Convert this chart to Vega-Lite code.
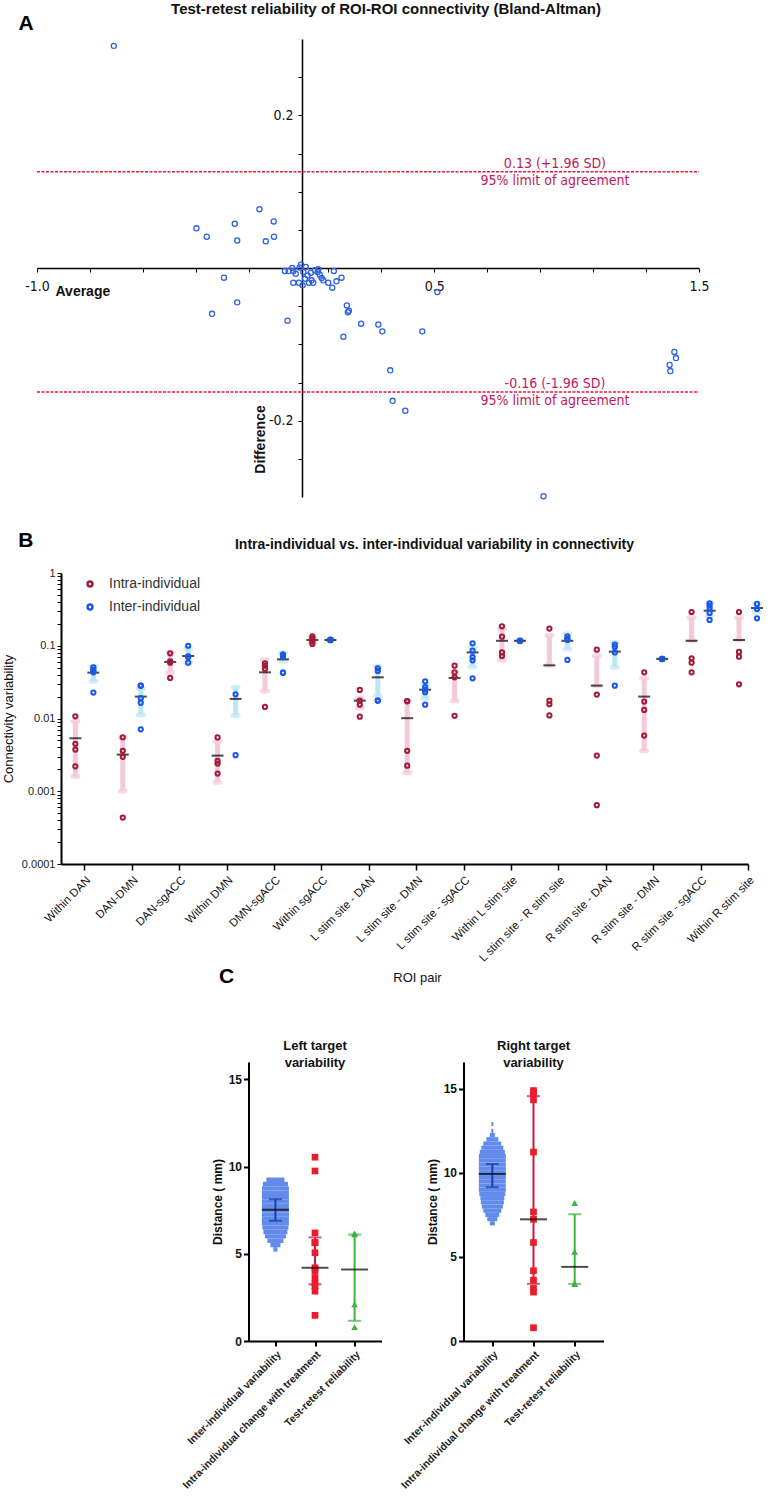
{
  "$schema": "https://vega.github.io/schema/vega-lite/v6.json",
  "padding": {"left": 2, "top": 2, "right": 0, "bottom": 0},
  "config": {
    "view": {"stroke": null},
    "font": "Liberation Sans",
    "axis": {"grid": false, "domainColor": "#000", "tickColor": "#000", "labelColor": "#111", "titleColor": "#111"},
    "title": {"color": "#111", "font": "Liberation Sans"}
  },
  "datasets": {
    "apts": [
      {"average": -0.710, "difference": 0.291}, {"average": -0.160, "difference": 0.077}, {"average": -0.398, "difference": 0.052},
      {"average": -0.359, "difference": 0.041}, {"average": -0.253, "difference": 0.058}, {"average": -0.244, "difference": 0.036},
      {"average": -0.106, "difference": 0.061}, {"average": -0.136, "difference": 0.035}, {"average": -0.105, "difference": 0.041},
      {"average": -0.294, "difference": -0.0127}, {"average": 0.512, "difference": -0.0315}, {"average": -0.244, "difference": -0.045},
      {"average": -0.339, "difference": -0.060}, {"average": -0.054, "difference": -0.069}, {"average": 0.170, "difference": -0.049},
      {"average": 0.174, "difference": -0.058}, {"average": 0.178, "difference": -0.056}, {"average": 0.157, "difference": -0.090},
      {"average": 0.224, "difference": -0.073}, {"average": 0.289, "difference": -0.074}, {"average": 0.304, "difference": -0.083},
      {"average": 0.455, "difference": -0.083}, {"average": 0.334, "difference": -0.134}, {"average": 0.343, "difference": -0.174},
      {"average": 0.391, "difference": -0.187}, {"average": 1.407, "difference": -0.110}, {"average": 1.413, "difference": -0.118},
      {"average": 1.389, "difference": -0.127}, {"average": 1.392, "difference": -0.135}, {"average": 0.913, "difference": -0.299},
      {"average": -0.064, "difference": -0.0039}, {"average": -0.050, "difference": -0.0040}, {"average": -0.036, "difference": 0.0},
      {"average": -0.032, "difference": -0.0039}, {"average": -0.023, "difference": -0.0075}, {"average": -0.003, "difference": 0.0043},
      {"average": 0.015, "difference": 0.0013}, {"average": 0.006, "difference": -0.0052}, {"average": -0.032, "difference": -0.0193},
      {"average": -0.011, "difference": -0.0193}, {"average": 0.003, "difference": -0.0227}, {"average": 0.012, "difference": -0.014},
      {"average": 0.027, "difference": -0.0193}, {"average": 0.037, "difference": -0.0161}, {"average": 0.043, "difference": -0.0193},
      {"average": 0.034, "difference": -0.0062}, {"average": 0.049, "difference": -0.003}, {"average": 0.060, "difference": -0.0052},
      {"average": 0.068, "difference": -0.0088}, {"average": 0.075, "difference": -0.0131}, {"average": 0.081, "difference": -0.0161},
      {"average": 0.100, "difference": -0.0193}, {"average": 0.115, "difference": -0.0258}, {"average": 0.121, "difference": -0.0039},
      {"average": 0.131, "difference": -0.0174}, {"average": 0.150, "difference": -0.0127}, {"average": 0.062, "difference": -0.0017},
      {"average": 0.022, "difference": -0.0096}, {"average": -0.008, "difference": 0.0007}
    ],
    "alines": [
      {"from": -1.0, "to": 1.5, "difference": 0.126, "label_at": 0.956, "limit": "0.13 (+1.96 SD)", "note": "95% limit of agreement"},
      {"from": -1.0, "to": 1.5, "difference": -0.1625, "label_at": 0.956, "limit": "-0.16 (-1.96 SD)", "note": "95% limit of agreement"}
    ],
    "bpts": [
      {"roi": "Within DAN", "group": "Intra-individual", "v": 0.0107}, {"roi": "Within DAN", "group": "Intra-individual", "v": 0.00448},
      {"roi": "Within DAN", "group": "Intra-individual", "v": 0.00374}, {"roi": "Within DAN", "group": "Intra-individual", "v": 0.0022},
      {"roi": "Within DAN", "group": "Inter-individual", "v": 0.0505}, {"roi": "Within DAN", "group": "Inter-individual", "v": 0.047},
      {"roi": "Within DAN", "group": "Inter-individual", "v": 0.0431}, {"roi": "Within DAN", "group": "Inter-individual", "v": 0.045},
      {"roi": "Within DAN", "group": "Inter-individual", "v": 0.0227},
      {"roi": "DAN-DMN", "group": "Intra-individual", "v": 0.00552}, {"roi": "DAN-DMN", "group": "Intra-individual", "v": 0.00359},
      {"roi": "DAN-DMN", "group": "Intra-individual", "v": 0.00297}, {"roi": "DAN-DMN", "group": "Intra-individual", "v": 0.000435},
      {"roi": "DAN-DMN", "group": "Inter-individual", "v": 0.0283}, {"roi": "DAN-DMN", "group": "Inter-individual", "v": 0.0283},
      {"roi": "DAN-DMN", "group": "Inter-individual", "v": 0.019}, {"roi": "DAN-DMN", "group": "Inter-individual", "v": 0.0164},
      {"roi": "DAN-DMN", "group": "Inter-individual", "v": 0.0071},
      {"roi": "DAN-sgACC", "group": "Intra-individual", "v": 0.0787}, {"roi": "DAN-sgACC", "group": "Intra-individual", "v": 0.061},
      {"roi": "DAN-sgACC", "group": "Intra-individual", "v": 0.0586}, {"roi": "DAN-sgACC", "group": "Intra-individual", "v": 0.0361},
      {"roi": "DAN-sgACC", "group": "Inter-individual", "v": 0.1}, {"roi": "DAN-sgACC", "group": "Inter-individual", "v": 0.0715},
      {"roi": "DAN-sgACC", "group": "Inter-individual", "v": 0.07}, {"roi": "DAN-sgACC", "group": "Inter-individual", "v": 0.0586},
      {"roi": "Within DMN", "group": "Intra-individual", "v": 0.0055}, {"roi": "Within DMN", "group": "Intra-individual", "v": 0.00261},
      {"roi": "Within DMN", "group": "Intra-individual", "v": 0.0024}, {"roi": "Within DMN", "group": "Intra-individual", "v": 0.00175},
      {"roi": "Within DMN", "group": "Inter-individual", "v": 0.0215}, {"roi": "Within DMN", "group": "Inter-individual", "v": 0.00313},
      {"roi": "DMN-sgACC", "group": "Intra-individual", "v": 0.0574}, {"roi": "DMN-sgACC", "group": "Intra-individual", "v": 0.0533},
      {"roi": "DMN-sgACC", "group": "Intra-individual", "v": 0.048}, {"roi": "DMN-sgACC", "group": "Intra-individual", "v": 0.0144},
      {"roi": "DMN-sgACC", "group": "Inter-individual", "v": 0.0762}, {"roi": "DMN-sgACC", "group": "Inter-individual", "v": 0.0738},
      {"roi": "DMN-sgACC", "group": "Inter-individual", "v": 0.07}, {"roi": "DMN-sgACC", "group": "Inter-individual", "v": 0.0427},
      {"roi": "DMN-sgACC", "group": "Inter-individual", "v": 0.0427},
      {"roi": "Within sgACC", "group": "Intra-individual", "v": 0.1346}, {"roi": "Within sgACC", "group": "Intra-individual", "v": 0.126},
      {"roi": "Within sgACC", "group": "Intra-individual", "v": 0.1187}, {"roi": "Within sgACC", "group": "Intra-individual", "v": 0.114},
      {"roi": "Within sgACC", "group": "Intra-individual", "v": 0.106},
      {"roi": "Within sgACC", "group": "Inter-individual", "v": 0.12}, {"roi": "Within sgACC", "group": "Inter-individual", "v": 0.121},
      {"roi": "Within sgACC", "group": "Inter-individual", "v": 0.119}, {"roi": "Within sgACC", "group": "Inter-individual", "v": 0.12},
      {"roi": "L stim site - DAN", "group": "Intra-individual", "v": 0.0247}, {"roi": "L stim site - DAN", "group": "Intra-individual", "v": 0.0176},
      {"roi": "L stim site - DAN", "group": "Intra-individual", "v": 0.0155}, {"roi": "L stim site - DAN", "group": "Intra-individual", "v": 0.0106},
      {"roi": "L stim site - DAN", "group": "Inter-individual", "v": 0.049}, {"roi": "L stim site - DAN", "group": "Inter-individual", "v": 0.045},
      {"roi": "L stim site - DAN", "group": "Inter-individual", "v": 0.0175}, {"roi": "L stim site - DAN", "group": "Inter-individual", "v": 0.0178},
      {"roi": "L stim site - DMN", "group": "Intra-individual", "v": 0.0174}, {"roi": "L stim site - DMN", "group": "Intra-individual", "v": 0.0172},
      {"roi": "L stim site - DMN", "group": "Intra-individual", "v": 0.00359}, {"roi": "L stim site - DMN", "group": "Intra-individual", "v": 0.00225},
      {"roi": "L stim site - DMN", "group": "Inter-individual", "v": 0.0324}, {"roi": "L stim site - DMN", "group": "Inter-individual", "v": 0.027},
      {"roi": "L stim site - DMN", "group": "Inter-individual", "v": 0.025}, {"roi": "L stim site - DMN", "group": "Inter-individual", "v": 0.023},
      {"roi": "L stim site - DMN", "group": "Inter-individual", "v": 0.0155},
      {"roi": "L stim site - sgACC", "group": "Intra-individual", "v": 0.0533}, {"roi": "L stim site - sgACC", "group": "Intra-individual", "v": 0.0431},
      {"roi": "L stim site - sgACC", "group": "Intra-individual", "v": 0.0368}, {"roi": "L stim site - sgACC", "group": "Intra-individual", "v": 0.0109},
      {"roi": "L stim site - sgACC", "group": "Inter-individual", "v": 0.108}, {"roi": "L stim site - sgACC", "group": "Inter-individual", "v": 0.0857},
      {"roi": "L stim site - sgACC", "group": "Inter-individual", "v": 0.07}, {"roi": "L stim site - sgACC", "group": "Inter-individual", "v": 0.063},
      {"roi": "L stim site - sgACC", "group": "Inter-individual", "v": 0.0357},
      {"roi": "Within L stim site", "group": "Intra-individual", "v": 0.185}, {"roi": "Within L stim site", "group": "Intra-individual", "v": 0.133},
      {"roi": "Within L stim site", "group": "Intra-individual", "v": 0.081}, {"roi": "Within L stim site", "group": "Intra-individual", "v": 0.0723},
      {"roi": "Within L stim site", "group": "Inter-individual", "v": 0.117}, {"roi": "Within L stim site", "group": "Inter-individual", "v": 0.118},
      {"roi": "Within L stim site", "group": "Inter-individual", "v": 0.116},
      {"roi": "L stim site - R stim site", "group": "Intra-individual", "v": 0.172}, {"roi": "L stim site - R stim site", "group": "Intra-individual", "v": 0.0176},
      {"roi": "L stim site - R stim site", "group": "Intra-individual", "v": 0.0157}, {"roi": "L stim site - R stim site", "group": "Intra-individual", "v": 0.011},
      {"roi": "L stim site - R stim site", "group": "Inter-individual", "v": 0.135}, {"roi": "L stim site - R stim site", "group": "Inter-individual", "v": 0.125},
      {"roi": "L stim site - R stim site", "group": "Inter-individual", "v": 0.12}, {"roi": "L stim site - R stim site", "group": "Inter-individual", "v": 0.0638},
      {"roi": "R stim site - DAN", "group": "Intra-individual", "v": 0.0883}, {"roi": "R stim site - DAN", "group": "Intra-individual", "v": 0.0213},
      {"roi": "R stim site - DAN", "group": "Intra-individual", "v": 0.00309}, {"roi": "R stim site - DAN", "group": "Intra-individual", "v": 0.000643},
      {"roi": "R stim site - DAN", "group": "Inter-individual", "v": 0.104}, {"roi": "R stim site - DAN", "group": "Inter-individual", "v": 0.096},
      {"roi": "R stim site - DAN", "group": "Inter-individual", "v": 0.081}, {"roi": "R stim site - DAN", "group": "Inter-individual", "v": 0.0283},
      {"roi": "R stim site - DMN", "group": "Intra-individual", "v": 0.0431}, {"roi": "R stim site - DMN", "group": "Intra-individual", "v": 0.0171},
      {"roi": "R stim site - DMN", "group": "Intra-individual", "v": 0.0131}, {"roi": "R stim site - DMN", "group": "Intra-individual", "v": 0.00582},
      {"roi": "R stim site - DMN", "group": "Inter-individual", "v": 0.0659}, {"roi": "R stim site - DMN", "group": "Inter-individual", "v": 0.066},
      {"roi": "R stim site - DMN", "group": "Inter-individual", "v": 0.0655},
      {"roi": "R stim site - sgACC", "group": "Intra-individual", "v": 0.291}, {"roi": "R stim site - sgACC", "group": "Intra-individual", "v": 0.0671},
      {"roi": "R stim site - sgACC", "group": "Intra-individual", "v": 0.0586}, {"roi": "R stim site - sgACC", "group": "Intra-individual", "v": 0.0431},
      {"roi": "R stim site - sgACC", "group": "Inter-individual", "v": 0.383}, {"roi": "R stim site - sgACC", "group": "Inter-individual", "v": 0.355},
      {"roi": "R stim site - sgACC", "group": "Inter-individual", "v": 0.327}, {"roi": "R stim site - sgACC", "group": "Inter-individual", "v": 0.282},
      {"roi": "R stim site - sgACC", "group": "Inter-individual", "v": 0.226},
      {"roi": "Within R stim site", "group": "Intra-individual", "v": 0.291}, {"roi": "Within R stim site", "group": "Intra-individual", "v": 0.0822},
      {"roi": "Within R stim site", "group": "Intra-individual", "v": 0.0708}, {"roi": "Within R stim site", "group": "Intra-individual", "v": 0.0295},
      {"roi": "Within R stim site", "group": "Inter-individual", "v": 0.375}, {"roi": "Within R stim site", "group": "Inter-individual", "v": 0.32},
      {"roi": "Within R stim site", "group": "Inter-individual", "v": 0.238}
    ],
    "bstats": [
      {"roi": "Within DAN", "group": "Intra-individual", "mean": 0.00535, "lo": 0.00159, "hi": 0.00916},
      {"roi": "Within DAN", "group": "Inter-individual", "mean": 0.0427, "lo": 0.0324, "hi": 0.052},
      {"roi": "DAN-DMN", "group": "Intra-individual", "mean": 0.00319, "lo": 0.00101, "hi": 0.0055},
      {"roi": "DAN-DMN", "group": "Inter-individual", "mean": 0.02, "lo": 0.0113, "hi": 0.0257},
      {"roi": "DAN-sgACC", "group": "Intra-individual", "mean": 0.0599, "lo": 0.043, "hi": 0.081},
      {"roi": "DAN-sgACC", "group": "Inter-individual", "mean": 0.0723, "lo": 0.0586, "hi": 0.092},
      {"roi": "Within DMN", "group": "Intra-individual", "mean": 0.00309, "lo": 0.00133, "hi": 0.00482},
      {"roi": "Within DMN", "group": "Inter-individual", "mean": 0.0186, "lo": 0.011, "hi": 0.0268},
      {"roi": "DMN-sgACC", "group": "Intra-individual", "mean": 0.0431, "lo": 0.0237, "hi": 0.0644},
      {"roi": "DMN-sgACC", "group": "Inter-individual", "mean": 0.065, "lo": 0.061, "hi": 0.0796},
      {"roi": "Within sgACC", "group": "Intra-individual", "mean": 0.12, "lo": 0.11, "hi": 0.13},
      {"roi": "Within sgACC", "group": "Inter-individual", "mean": 0.12, "lo": 0.117, "hi": 0.123},
      {"roi": "L stim site - DAN", "group": "Intra-individual", "mean": 0.0176, "lo": 0.014, "hi": 0.019},
      {"roi": "L stim site - DAN", "group": "Inter-individual", "mean": 0.0368, "lo": 0.0206, "hi": 0.052},
      {"roi": "L stim site - DMN", "group": "Intra-individual", "mean": 0.0101, "lo": 0.00179, "hi": 0.0176},
      {"roi": "L stim site - DMN", "group": "Inter-individual", "mean": 0.0249, "lo": 0.019, "hi": 0.0298},
      {"roi": "L stim site - sgACC", "group": "Intra-individual", "mean": 0.0361, "lo": 0.0176, "hi": 0.0431},
      {"roi": "L stim site - sgACC", "group": "Inter-individual", "mean": 0.081, "lo": 0.0516, "hi": 0.095},
      {"roi": "Within L stim site", "group": "Intra-individual", "mean": 0.117, "lo": 0.0638, "hi": 0.17},
      {"roi": "Within L stim site", "group": "Inter-individual", "mean": 0.117, "lo": 0.115, "hi": 0.12},
      {"roi": "L stim site - R stim site", "group": "Intra-individual", "mean": 0.0538, "lo": 0.0538, "hi": 0.138},
      {"roi": "L stim site - R stim site", "group": "Inter-individual", "mean": 0.117, "lo": 0.0904, "hi": 0.145},
      {"roi": "R stim site - DAN", "group": "Intra-individual", "mean": 0.0283, "lo": 0.0283, "hi": 0.0731},
      {"roi": "R stim site - DAN", "group": "Inter-individual", "mean": 0.083, "lo": 0.0505, "hi": 0.111},
      {"roi": "R stim site - DMN", "group": "Intra-individual", "mean": 0.02, "lo": 0.00359, "hi": 0.0361},
      {"roi": "R stim site - DMN", "group": "Inter-individual", "mean": 0.0659, "lo": 0.064, "hi": 0.068},
      {"roi": "R stim site - sgACC", "group": "Intra-individual", "mean": 0.117, "lo": 0.117, "hi": 0.245},
      {"roi": "R stim site - sgACC", "group": "Inter-individual", "mean": 0.303, "lo": 0.259, "hi": 0.387},
      {"roi": "Within R stim site", "group": "Intra-individual", "mean": 0.12, "lo": 0.12, "hi": 0.245},
      {"roi": "Within R stim site", "group": "Inter-individual", "mean": 0.33, "lo": 0.29, "hi": 0.375}
    ],
    "cblobL": [
      {"cat": "Inter-individual variability", "dist": 9.25, "n": 18}, {"cat": "Inter-individual variability", "dist": 9.0, "n": 25},
      {"cat": "Inter-individual variability", "dist": 8.75, "n": 27}, {"cat": "Inter-individual variability", "dist": 8.5, "n": 27},
      {"cat": "Inter-individual variability", "dist": 8.25, "n": 27}, {"cat": "Inter-individual variability", "dist": 8.0, "n": 27},
      {"cat": "Inter-individual variability", "dist": 7.75, "n": 27}, {"cat": "Inter-individual variability", "dist": 7.5, "n": 27},
      {"cat": "Inter-individual variability", "dist": 7.25, "n": 27}, {"cat": "Inter-individual variability", "dist": 7.0, "n": 27},
      {"cat": "Inter-individual variability", "dist": 6.75, "n": 27}, {"cat": "Inter-individual variability", "dist": 6.5, "n": 26},
      {"cat": "Inter-individual variability", "dist": 6.25, "n": 24}, {"cat": "Inter-individual variability", "dist": 6.0, "n": 21},
      {"cat": "Inter-individual variability", "dist": 5.75, "n": 16}, {"cat": "Inter-individual variability", "dist": 5.5, "n": 10},
      {"cat": "Inter-individual variability", "dist": 5.25, "n": 4}
    ],
    "cptsL": [
      {"cat": "Intra-individual change with treatment", "dist": 10.54}, {"cat": "Intra-individual change with treatment", "dist": 9.75},
      {"cat": "Intra-individual change with treatment", "dist": 6.2}, {"cat": "Intra-individual change with treatment", "dist": 5.63},
      {"cat": "Intra-individual change with treatment", "dist": 5.65}, {"cat": "Intra-individual change with treatment", "dist": 5.06},
      {"cat": "Intra-individual change with treatment", "dist": 4.2}, {"cat": "Intra-individual change with treatment", "dist": 4.01},
      {"cat": "Intra-individual change with treatment", "dist": 3.63}, {"cat": "Intra-individual change with treatment", "dist": 3.34},
      {"cat": "Intra-individual change with treatment", "dist": 3.15}, {"cat": "Intra-individual change with treatment", "dist": 2.86},
      {"cat": "Intra-individual change with treatment", "dist": 1.47},
      {"cat": "Test-retest reliability", "dist": 6.11}, {"cat": "Test-retest reliability", "dist": 6.17},
      {"cat": "Test-retest reliability", "dist": 2.1}, {"cat": "Test-retest reliability", "dist": 0.8}
    ],
    "cstatsL": [
      {"cat": "Inter-individual variability", "mean": 7.52, "lo": 6.9, "hi": 8.13},
      {"cat": "Intra-individual change with treatment", "mean": 4.2, "lo": 3.25, "hi": 5.94},
      {"cat": "Test-retest reliability", "mean": 4.1, "lo": 1.16, "hi": 6.1}
    ],
    "cblobR": [
      {"cat": "Inter-individual variability", "dist": 12.9, "n": 2}, {"cat": "Inter-individual variability", "dist": 12.5, "n": 2},
      {"cat": "Inter-individual variability", "dist": 12.25, "n": 5}, {"cat": "Inter-individual variability", "dist": 12.0, "n": 12},
      {"cat": "Inter-individual variability", "dist": 11.75, "n": 18}, {"cat": "Inter-individual variability", "dist": 11.5, "n": 22},
      {"cat": "Inter-individual variability", "dist": 11.25, "n": 25}, {"cat": "Inter-individual variability", "dist": 11.0, "n": 27},
      {"cat": "Inter-individual variability", "dist": 10.75, "n": 27}, {"cat": "Inter-individual variability", "dist": 10.5, "n": 27},
      {"cat": "Inter-individual variability", "dist": 10.25, "n": 27}, {"cat": "Inter-individual variability", "dist": 10.0, "n": 27},
      {"cat": "Inter-individual variability", "dist": 9.75, "n": 27}, {"cat": "Inter-individual variability", "dist": 9.5, "n": 27},
      {"cat": "Inter-individual variability", "dist": 9.25, "n": 27}, {"cat": "Inter-individual variability", "dist": 9.0, "n": 27},
      {"cat": "Inter-individual variability", "dist": 8.75, "n": 26}, {"cat": "Inter-individual variability", "dist": 8.5, "n": 24},
      {"cat": "Inter-individual variability", "dist": 8.25, "n": 23}, {"cat": "Inter-individual variability", "dist": 8.0, "n": 21},
      {"cat": "Inter-individual variability", "dist": 7.75, "n": 18}, {"cat": "Inter-individual variability", "dist": 7.5, "n": 14},
      {"cat": "Inter-individual variability", "dist": 7.25, "n": 10}, {"cat": "Inter-individual variability", "dist": 7.0, "n": 5}
    ],
    "cptsR": [
      {"cat": "Intra-individual change with treatment", "dist": 14.9}, {"cat": "Intra-individual change with treatment", "dist": 14.74},
      {"cat": "Intra-individual change with treatment", "dist": 14.71}, {"cat": "Intra-individual change with treatment", "dist": 14.35},
      {"cat": "Intra-individual change with treatment", "dist": 11.24}, {"cat": "Intra-individual change with treatment", "dist": 7.68},
      {"cat": "Intra-individual change with treatment", "dist": 7.24}, {"cat": "Intra-individual change with treatment", "dist": 5.86},
      {"cat": "Intra-individual change with treatment", "dist": 4.18}, {"cat": "Intra-individual change with treatment", "dist": 3.62},
      {"cat": "Intra-individual change with treatment", "dist": 3.13}, {"cat": "Intra-individual change with treatment", "dist": 2.91},
      {"cat": "Intra-individual change with treatment", "dist": 0.79},
      {"cat": "Test-retest reliability", "dist": 8.21}, {"cat": "Test-retest reliability", "dist": 5.3},
      {"cat": "Test-retest reliability", "dist": 3.38}, {"cat": "Test-retest reliability", "dist": 3.42}
    ],
    "cstatsR": [
      {"cat": "Inter-individual variability", "mean": 9.94, "lo": 9.15, "hi": 10.53},
      {"cat": "Intra-individual change with treatment", "mean": 7.24, "lo": 3.4, "hi": 14.57},
      {"cat": "Test-retest reliability", "mean": 4.41, "lo": 3.4, "hi": 7.54}
    ]
  },
  "spacing": 52,
  "center": true,
  "resolve": {"scale": {"color": "independent", "size": "independent", "shape": "independent"}, "legend": {"color": "independent"}},
  "vconcat": [
    {
      "spacing": 28,
      "resolve": {"scale": {"color": "independent"}, "legend": {"color": "independent"}},
      "vconcat": [
        {
          "width": 730,
          "height": 458,
          "title": {"text": "Test-retest reliability of ROI-ROI connectivity (Bland-Altman)", "fontSize": 15, "fontWeight": "bold", "anchor": "middle", "frame": "group", "dx": -40, "offset": -4},
          "layer": [
            {
              "data": {"name": "apts"},
              "mark": {"type": "point", "shape": "circle", "filled": false, "size": 26, "strokeWidth": 1.3, "color": "#2c62e2", "opacity": 1},
              "encoding": {
                "x": {"field": "average", "type": "quantitative", "scale": {"domain": [-1, 1.5], "range": [-24, 638], "nice": false, "zero": false},
                  "axis": {"orient": "bottom", "offset": -229, "values": [-1, -0.9, -0.8, -0.7, -0.6, -0.5, -0.4, -0.3, -0.2, -0.1, 0.1, 0.2, 0.3, 0.4, 0.5, 0.6, 0.7, 0.8, 0.9, 1, 1.1, 1.2, 1.3, 1.4, 1.5],
                    "labelExpr": "abs(datum.value*2 - round(datum.value*2)) < 0.001 ? replace(format(datum.value, '.1f'), '\u2212', '-') : ''",
                    "title": "Average", "titleX": -6, "titleY": 23, "titleAlign": "left", "titleBaseline": "middle", "titleFontSize": 14, "titleFontWeight": "bold",
                    "labelFont": "Liberation Sans Narrow, DejaVu Sans Condensed, Liberation Sans", "labelFontSize": 14, "labelPadding": 7,
                    "tickSize": 4, "tickWidth": 1, "domainWidth": 1.5, "labelFlush": false, "labelOverlap": false, "labelBound": false}},
                "y": {"field": "difference", "type": "quantitative", "scale": {"domain": [-0.3, 0.3], "nice": false, "zero": false},
                  "axis": {"orient": "left", "offset": -241, "values": [-0.25, -0.2, -0.15, -0.1, -0.05, 0.05, 0.1, 0.15, 0.2, 0.25],
                    "labelExpr": "abs(abs(datum.value) - 0.2) < 0.001 ? replace(format(datum.value, '.1f'), '\u2212', '-') : ''",
                    "title": "Difference", "titleAngle": -90, "titleX": -42, "titleY": 400, "titleAlign": "center", "titleBaseline": "middle", "titleFontSize": 14, "titleFontWeight": "bold",
                    "labelFont": "Liberation Sans Narrow, DejaVu Sans Condensed, Liberation Sans", "labelFontSize": 14, "labelPadding": 5,
                    "tickSize": 4, "tickWidth": 1, "domainWidth": 1.5, "labelOverlap": false}}
              }
            },
            {
              "data": {"name": "alines"},
              "mark": {"type": "rule", "color": "#e8193c", "strokeWidth": 1.5, "strokeDash": [3, 1.5]},
              "encoding": {
                "x": {"field": "from", "type": "quantitative", "scale": {"domain": [-1, 1.5], "range": [-24, 638], "nice": false, "zero": false}},
                "x2": {"field": "to"},
                "y": {"field": "difference", "type": "quantitative", "scale": {"domain": [-0.3, 0.3], "nice": false, "zero": false}}
              }
            },
            {
              "data": {"name": "alines"},
              "mark": {"type": "text", "baseline": "bottom", "dy": -1, "font": "Liberation Sans Narrow, DejaVu Sans Condensed, Liberation Sans", "fontSize": 14, "color": "#c2185b"},
              "encoding": {
                "x": {"field": "label_at", "type": "quantitative", "scale": {"domain": [-1, 1.5], "range": [-24, 638], "nice": false, "zero": false}},
                "y": {"field": "difference", "type": "quantitative", "scale": {"domain": [-0.3, 0.3], "nice": false, "zero": false}},
                "text": {"field": "limit"}
              }
            },
            {
              "data": {"name": "alines"},
              "mark": {"type": "text", "baseline": "top", "dy": 2, "font": "Liberation Sans Narrow, DejaVu Sans Condensed, Liberation Sans", "fontSize": 14, "color": "#c2185b"},
              "encoding": {
                "x": {"field": "label_at", "type": "quantitative", "scale": {"domain": [-1, 1.5], "range": [-24, 638], "nice": false, "zero": false}},
                "y": {"field": "difference", "type": "quantitative", "scale": {"domain": [-0.3, 0.3], "nice": false, "zero": false}},
                "text": {"field": "note"}
              }
            },
            {
              "data": {"values": [{"average": -1.041, "difference": 0.319, "panel": "A"}]},
              "mark": {"type": "text", "fontSize": 21, "fontWeight": "bold", "color": "#000"},
              "encoding": {
                "x": {"field": "average", "type": "quantitative", "scale": {"domain": [-1, 1.5], "range": [-24, 638], "nice": false, "zero": false}},
                "y": {"field": "difference", "type": "quantitative", "scale": {"domain": [-0.3, 0.3], "nice": false, "zero": false}},
                "text": {"field": "panel"}
              }
            }
          ]
        },
        {
          "width": 687,
          "height": 291,
          "title": {"text": "Intra-individual vs. inter-individual variability in connectivity", "fontSize": 14, "fontWeight": "bold", "anchor": "middle", "frame": "group", "dx": 30, "offset": -22},
          "layer": [
            {
              "data": {"name": "bstats"},
              "transform": [{"filter": "datum.group === 'Intra-individual'"}],
              "mark": {"type": "rule", "xOffset": -9, "color": "#f6c8dc", "strokeWidth": 5},
              "encoding": {
                "x": {"field": "roi", "type": "nominal", "sort": null,
                  "scale": {"type": "point", "domain": ["Within DAN", "DAN-DMN", "DAN-sgACC", "Within DMN", "DMN-sgACC", "Within sgACC", "L stim site - DAN", "L stim site - DMN", "L stim site - sgACC", "Within L stim site", "L stim site - R stim site", "R stim site - DAN", "R stim site - DMN", "R stim site - sgACC", "Within R stim site"], "padding": 0.2465, "align": 1},
                  "axis": {"title": "ROI pair", "titleFontSize": 13, "titleFontWeight": "normal", "titlePadding": 8, "titleX": 356, "labelAngle": -45, "labelFontSize": 11.5, "labelPadding": 4, "tickSize": 6, "tickWidth": 1.5, "domainWidth": 2, "labelLimit": 300}},
                "y": {"field": "lo", "type": "quantitative", "scale": {"type": "log", "domain": [0.0001, 1], "nice": false},
                  "axis": {"title": "Connectivity variability", "titleFontSize": 13, "titleFontWeight": "normal", "titlePadding": 6,
                    "values": [0.0001, 0.0002, 0.0003, 0.0004, 0.0005, 0.0006, 0.0007, 0.0008, 0.0009, 0.001, 0.002, 0.003, 0.004, 0.005, 0.006, 0.007, 0.008, 0.009, 0.01, 0.02, 0.03, 0.04, 0.05, 0.06, 0.07, 0.08, 0.09, 0.1, 0.2, 0.3, 0.4, 0.5, 0.6, 0.7, 0.8, 0.9, 1],
                    "labelExpr": "abs(log(datum.value)/LN10 - round(log(datum.value)/LN10)) < 0.000001 ? format(datum.value, '~g') : ''",
                    "labelFontSize": 11, "labelPadding": 2, "tickSize": 4, "domainWidth": 2, "labelOverlap": false, "labelColor": "#222"}},
                "y2": {"field": "hi"}
              }
            },
            {
              "data": {"name": "bstats"},
              "transform": [{"filter": "datum.group === 'Intra-individual'"}, {"fold": ["lo", "hi"], "as": ["end", "v"]}],
              "mark": {"type": "tick", "xOffset": -9, "color": "#f6c8dc", "size": 10, "thickness": 5, "cornerRadius": 2.5},
              "encoding": {
                "x": {"field": "roi", "type": "nominal", "sort": null, "scale": {"type": "point", "domain": ["Within DAN", "DAN-DMN", "DAN-sgACC", "Within DMN", "DMN-sgACC", "Within sgACC", "L stim site - DAN", "L stim site - DMN", "L stim site - sgACC", "Within L stim site", "L stim site - R stim site", "R stim site - DAN", "R stim site - DMN", "R stim site - sgACC", "Within R stim site"], "padding": 0.2465, "align": 1}},
                "y": {"field": "v", "type": "quantitative", "scale": {"type": "log", "domain": [0.0001, 1], "nice": false}}
              }
            },
            {
              "data": {"name": "bstats"},
              "transform": [{"filter": "datum.group === 'Inter-individual'"}],
              "mark": {"type": "rule", "xOffset": 9, "color": "#bde6f5", "strokeWidth": 5},
              "encoding": {
                "x": {"field": "roi", "type": "nominal", "sort": null, "scale": {"type": "point", "domain": ["Within DAN", "DAN-DMN", "DAN-sgACC", "Within DMN", "DMN-sgACC", "Within sgACC", "L stim site - DAN", "L stim site - DMN", "L stim site - sgACC", "Within L stim site", "L stim site - R stim site", "R stim site - DAN", "R stim site - DMN", "R stim site - sgACC", "Within R stim site"], "padding": 0.2465, "align": 1}},
                "y": {"field": "lo", "type": "quantitative", "scale": {"type": "log", "domain": [0.0001, 1], "nice": false}},
                "y2": {"field": "hi"}
              }
            },
            {
              "data": {"name": "bstats"},
              "transform": [{"filter": "datum.group === 'Inter-individual'"}, {"fold": ["lo", "hi"], "as": ["end", "v"]}],
              "mark": {"type": "tick", "xOffset": 9, "color": "#bde6f5", "size": 10, "thickness": 5, "cornerRadius": 2.5},
              "encoding": {
                "x": {"field": "roi", "type": "nominal", "sort": null, "scale": {"type": "point", "domain": ["Within DAN", "DAN-DMN", "DAN-sgACC", "Within DMN", "DMN-sgACC", "Within sgACC", "L stim site - DAN", "L stim site - DMN", "L stim site - sgACC", "Within L stim site", "L stim site - R stim site", "R stim site - DAN", "R stim site - DMN", "R stim site - sgACC", "Within R stim site"], "padding": 0.2465, "align": 1}},
                "y": {"field": "v", "type": "quantitative", "scale": {"type": "log", "domain": [0.0001, 1], "nice": false}}
              }
            },
            {
              "data": {"name": "bstats"},
              "transform": [{"filter": "datum.group === 'Intra-individual'"}],
              "mark": {"type": "tick", "xOffset": -9, "color": "#000", "size": 12, "thickness": 2},
              "encoding": {
                "x": {"field": "roi", "type": "nominal", "sort": null, "scale": {"type": "point", "domain": ["Within DAN", "DAN-DMN", "DAN-sgACC", "Within DMN", "DMN-sgACC", "Within sgACC", "L stim site - DAN", "L stim site - DMN", "L stim site - sgACC", "Within L stim site", "L stim site - R stim site", "R stim site - DAN", "R stim site - DMN", "R stim site - sgACC", "Within R stim site"], "padding": 0.2465, "align": 1}},
                "y": {"field": "mean", "type": "quantitative", "scale": {"type": "log", "domain": [0.0001, 1], "nice": false}}
              }
            },
            {
              "data": {"name": "bstats"},
              "transform": [{"filter": "datum.group === 'Inter-individual'"}],
              "mark": {"type": "tick", "xOffset": 9, "color": "#000", "size": 12, "thickness": 2},
              "encoding": {
                "x": {"field": "roi", "type": "nominal", "sort": null, "scale": {"type": "point", "domain": ["Within DAN", "DAN-DMN", "DAN-sgACC", "Within DMN", "DMN-sgACC", "Within sgACC", "L stim site - DAN", "L stim site - DMN", "L stim site - sgACC", "Within L stim site", "L stim site - R stim site", "R stim site - DAN", "R stim site - DMN", "R stim site - sgACC", "Within R stim site"], "padding": 0.2465, "align": 1}},
                "y": {"field": "mean", "type": "quantitative", "scale": {"type": "log", "domain": [0.0001, 1], "nice": false}}
              }
            },
            {
              "data": {"name": "bpts"},
              "transform": [{"filter": "datum.group === 'Intra-individual'"}],
              "mark": {"type": "point", "shape": "circle", "filled": false, "size": 18, "strokeWidth": 2, "xOffset": -9, "opacity": 1},
              "encoding": {
                "x": {"field": "roi", "type": "nominal", "sort": null, "scale": {"type": "point", "domain": ["Within DAN", "DAN-DMN", "DAN-sgACC", "Within DMN", "DMN-sgACC", "Within sgACC", "L stim site - DAN", "L stim site - DMN", "L stim site - sgACC", "Within L stim site", "L stim site - R stim site", "R stim site - DAN", "R stim site - DMN", "R stim site - sgACC", "Within R stim site"], "padding": 0.2465, "align": 1}},
                "y": {"field": "v", "type": "quantitative", "scale": {"type": "log", "domain": [0.0001, 1], "nice": false}},
                "color": {"field": "group", "type": "nominal", "scale": {"domain": ["Intra-individual", "Inter-individual"], "range": ["#a31b34", "#1b58e6"]},
                  "legend": {"orient": "none", "legendX": 22, "legendY": 4, "title": null, "symbolSize": 24, "symbolStrokeWidth": 2.5, "labelFontSize": 14, "labelColor": "#333", "rowPadding": 7, "labelOffset": 12, "padding": 0}}
              }
            },
            {
              "data": {"name": "bpts"},
              "transform": [{"filter": "datum.group === 'Inter-individual'"}],
              "mark": {"type": "point", "shape": "circle", "filled": false, "size": 18, "strokeWidth": 2, "xOffset": 9, "opacity": 1},
              "encoding": {
                "x": {"field": "roi", "type": "nominal", "sort": null, "scale": {"type": "point", "domain": ["Within DAN", "DAN-DMN", "DAN-sgACC", "Within DMN", "DMN-sgACC", "Within sgACC", "L stim site - DAN", "L stim site - DMN", "L stim site - sgACC", "Within L stim site", "L stim site - R stim site", "R stim site - DAN", "R stim site - DMN", "R stim site - sgACC", "Within R stim site"], "padding": 0.2465, "align": 1}},
                "y": {"field": "v", "type": "quantitative", "scale": {"type": "log", "domain": [0.0001, 1], "nice": false}},
                "color": {"field": "group", "type": "nominal", "scale": {"domain": ["Intra-individual", "Inter-individual"], "range": ["#a31b34", "#1b58e6"]},
                  "legend": {"orient": "none", "legendX": 22, "legendY": 4, "title": null, "symbolSize": 24, "symbolStrokeWidth": 2.5, "labelFontSize": 14, "labelColor": "#333", "rowPadding": 7, "labelOffset": 12, "padding": 0}}
              }
            },
            {
              "data": {"values": [{"roi": "Within DAN", "v": 2.73, "panel": "B"}]},
              "mark": {"type": "text", "fontSize": 21, "fontWeight": "bold", "color": "#000", "dx": -58.5},
              "encoding": {
                "x": {"field": "roi", "type": "nominal", "sort": null, "scale": {"type": "point", "domain": ["Within DAN", "DAN-DMN", "DAN-sgACC", "Within DMN", "DMN-sgACC", "Within sgACC", "L stim site - DAN", "L stim site - DMN", "L stim site - sgACC", "Within L stim site", "L stim site - R stim site", "R stim site - DAN", "R stim site - DMN", "R stim site - sgACC", "Within R stim site"], "padding": 0.2465, "align": 1}},
                "y": {"field": "v", "type": "quantitative", "scale": {"type": "log", "domain": [0.0001, 1], "nice": false}},
                "text": {"field": "panel"}
              }
            },
            {
              "data": {"values": [{"roi": "Within DMN", "v": 0.00000277, "panel": "C"}]},
              "mark": {"type": "text", "fontSize": 21, "fontWeight": "bold", "color": "#000"},
              "encoding": {
                "x": {"field": "roi", "type": "nominal", "sort": null, "scale": {"type": "point", "domain": ["Within DAN", "DAN-DMN", "DAN-sgACC", "Within DMN", "DMN-sgACC", "Within sgACC", "L stim site - DAN", "L stim site - DMN", "L stim site - sgACC", "Within L stim site", "L stim site - R stim site", "R stim site - DAN", "R stim site - DMN", "R stim site - sgACC", "Within R stim site"], "padding": 0.2465, "align": 1}},
                "y": {"field": "v", "type": "quantitative", "scale": {"type": "log", "domain": [0.0001, 1], "nice": false}},
                "text": {"field": "panel"}
              }
            }
          ]
        }
      ]
    },
    {
      "spacing": 17,
      "resolve": {"scale": {"color": "independent", "size": "independent", "shape": "independent"}},
      "hconcat": [
        {
          "width": 133,
          "height": 279,
          "title": {"text": ["Left target", "variability"], "fontSize": 13, "fontWeight": "bold", "anchor": "middle", "frame": "group", "offset": -8, "lineHeight": 17},
          "resolve": {"scale": {"color": "independent"}},
          "layer": [
            {
              "data": {"name": "cblobL"},
              "mark": {"type": "tick", "thickness": 4.4, "color": "#5a85ea", "opacity": 0.95},
              "encoding": {
                "x": {"field": "cat", "type": "nominal", "sort": null, "scale": {"type": "point", "domain": ["Inter-individual variability", "Intra-individual change with treatment", "Test-retest reliability"], "padding": 0.68},
                  "axis": {"title": null, "labelAngle": -45, "labelFontSize": 10.5, "labelFontWeight": "bold", "labelPadding": 3, "tickSize": 5, "tickWidth": 2, "domainWidth": 2, "labelLimit": 300, "labelColor": "#222"}},
                "y": {"field": "dist", "type": "quantitative", "scale": {"domain": [0, 16], "nice": false},
                  "axis": {"title": "Distance ( mm)", "titleFontSize": 12, "titleFontWeight": "bold", "titlePadding": 4, "values": [0, 5, 10, 15], "labelFontSize": 12, "labelFontWeight": "bold", "labelColor": "#111", "labelPadding": 2, "tickSize": 5, "tickWidth": 2, "domainWidth": 2}},
                "size": {"field": "n", "type": "quantitative", "scale": {"domain": [0, 27], "range": [0, 27]}, "legend": null}
              }
            },
            {
              "data": {"name": "cstatsL"},
              "mark": {"type": "rule", "strokeWidth": 2},
              "encoding": {
                "x": {"field": "cat", "type": "nominal", "sort": null, "scale": {"type": "point", "domain": ["Inter-individual variability", "Intra-individual change with treatment", "Test-retest reliability"], "padding": 0.68}},
                "y": {"field": "lo", "type": "quantitative", "scale": {"domain": [0, 16], "nice": false}},
                "y2": {"field": "hi"},
                "color": {"field": "cat", "type": "nominal", "scale": {"domain": ["Inter-individual variability", "Intra-individual change with treatment", "Test-retest reliability"], "range": ["#1d3fae", "#c8173f", "#3cb33a"]}, "legend": null}
              }
            },
            {
              "data": {"name": "cstatsL"},
              "transform": [{"fold": ["lo", "hi"], "as": ["end", "dist"]}],
              "mark": {"type": "tick", "size": 13, "thickness": 2},
              "encoding": {
                "x": {"field": "cat", "type": "nominal", "sort": null, "scale": {"type": "point", "domain": ["Inter-individual variability", "Intra-individual change with treatment", "Test-retest reliability"], "padding": 0.68}},
                "y": {"field": "dist", "type": "quantitative", "scale": {"domain": [0, 16], "nice": false}},
                "color": {"field": "cat", "type": "nominal", "scale": {"domain": ["Inter-individual variability", "Intra-individual change with treatment", "Test-retest reliability"], "range": ["#1d3fae", "#c8173f", "#3cb33a"]}, "legend": null}
              }
            },
            {
              "data": {"name": "cptsL"},
              "mark": {"type": "point", "filled": true, "size": 45, "opacity": 1},
              "encoding": {
                "x": {"field": "cat", "type": "nominal", "sort": null, "scale": {"type": "point", "domain": ["Inter-individual variability", "Intra-individual change with treatment", "Test-retest reliability"], "padding": 0.68}},
                "y": {"field": "dist", "type": "quantitative", "scale": {"domain": [0, 16], "nice": false}},
                "shape": {"field": "cat", "type": "nominal", "scale": {"domain": ["Intra-individual change with treatment", "Test-retest reliability"], "range": ["square", "triangle-up"]}, "legend": null},
                "color": {"field": "cat", "type": "nominal", "scale": {"domain": ["Intra-individual change with treatment", "Test-retest reliability"], "range": ["#ec1c2b", "#3cb33a"]}, "legend": null}
              }
            },
            {
              "data": {"name": "cstatsL"},
              "mark": {"type": "tick", "size": 27, "thickness": 2, "color": "#000"},
              "encoding": {
                "x": {"field": "cat", "type": "nominal", "sort": null, "scale": {"type": "point", "domain": ["Inter-individual variability", "Intra-individual change with treatment", "Test-retest reliability"], "padding": 0.68}},
                "y": {"field": "mean", "type": "quantitative", "scale": {"domain": [0, 16], "nice": false}}
              }
            }
          ]
        },
        {
          "width": 140,
          "height": 279,
          "title": {"text": ["Right target", "variability"], "fontSize": 13, "fontWeight": "bold", "anchor": "middle", "frame": "group", "offset": -8, "lineHeight": 17},
          "resolve": {"scale": {"color": "independent"}},
          "layer": [
            {
              "data": {"name": "cblobR"},
              "mark": {"type": "tick", "thickness": 4.2, "color": "#5a85ea", "opacity": 0.95},
              "encoding": {
                "x": {"field": "cat", "type": "nominal", "sort": null, "scale": {"type": "point", "domain": ["Inter-individual variability", "Intra-individual change with treatment", "Test-retest reliability"], "padding": 0.7},
                  "axis": {"title": null, "labelAngle": -45, "labelFontSize": 10.5, "labelFontWeight": "bold", "labelPadding": 3, "tickSize": 5, "tickWidth": 2, "domainWidth": 2, "labelLimit": 300, "labelColor": "#222"}},
                "y": {"field": "dist", "type": "quantitative", "scale": {"domain": [0, 16.6], "nice": false},
                  "axis": {"title": "Distance ( mm)", "titleFontSize": 12, "titleFontWeight": "bold", "titlePadding": 4, "values": [0, 5, 10, 15], "labelFontSize": 12, "labelFontWeight": "bold", "labelColor": "#111", "labelPadding": 2, "tickSize": 5, "tickWidth": 2, "domainWidth": 2}},
                "size": {"field": "n", "type": "quantitative", "scale": {"domain": [0, 27], "range": [0, 27]}, "legend": null}
              }
            },
            {
              "data": {"name": "cstatsR"},
              "mark": {"type": "rule", "strokeWidth": 2},
              "encoding": {
                "x": {"field": "cat", "type": "nominal", "sort": null, "scale": {"type": "point", "domain": ["Inter-individual variability", "Intra-individual change with treatment", "Test-retest reliability"], "padding": 0.7}},
                "y": {"field": "lo", "type": "quantitative", "scale": {"domain": [0, 16.6], "nice": false}},
                "y2": {"field": "hi"},
                "color": {"field": "cat", "type": "nominal", "scale": {"domain": ["Inter-individual variability", "Intra-individual change with treatment", "Test-retest reliability"], "range": ["#1d3fae", "#c8173f", "#3cb33a"]}, "legend": null}
              }
            },
            {
              "data": {"name": "cstatsR"},
              "transform": [{"fold": ["lo", "hi"], "as": ["end", "dist"]}],
              "mark": {"type": "tick", "size": 13, "thickness": 2},
              "encoding": {
                "x": {"field": "cat", "type": "nominal", "sort": null, "scale": {"type": "point", "domain": ["Inter-individual variability", "Intra-individual change with treatment", "Test-retest reliability"], "padding": 0.7}},
                "y": {"field": "dist", "type": "quantitative", "scale": {"domain": [0, 16.6], "nice": false}},
                "color": {"field": "cat", "type": "nominal", "scale": {"domain": ["Inter-individual variability", "Intra-individual change with treatment", "Test-retest reliability"], "range": ["#1d3fae", "#c8173f", "#3cb33a"]}, "legend": null}
              }
            },
            {
              "data": {"name": "cptsR"},
              "mark": {"type": "point", "filled": true, "size": 45, "opacity": 1},
              "encoding": {
                "x": {"field": "cat", "type": "nominal", "sort": null, "scale": {"type": "point", "domain": ["Inter-individual variability", "Intra-individual change with treatment", "Test-retest reliability"], "padding": 0.7}},
                "y": {"field": "dist", "type": "quantitative", "scale": {"domain": [0, 16.6], "nice": false}},
                "shape": {"field": "cat", "type": "nominal", "scale": {"domain": ["Intra-individual change with treatment", "Test-retest reliability"], "range": ["square", "triangle-up"]}, "legend": null},
                "color": {"field": "cat", "type": "nominal", "scale": {"domain": ["Intra-individual change with treatment", "Test-retest reliability"], "range": ["#ec1c2b", "#3cb33a"]}, "legend": null}
              }
            },
            {
              "data": {"name": "cstatsR"},
              "mark": {"type": "tick", "size": 27, "thickness": 2, "color": "#000"},
              "encoding": {
                "x": {"field": "cat", "type": "nominal", "sort": null, "scale": {"type": "point", "domain": ["Inter-individual variability", "Intra-individual change with treatment", "Test-retest reliability"], "padding": 0.7}},
                "y": {"field": "mean", "type": "quantitative", "scale": {"domain": [0, 16.6], "nice": false}}
              }
            }
          ]
        }
      ]
    }
  ]
}
